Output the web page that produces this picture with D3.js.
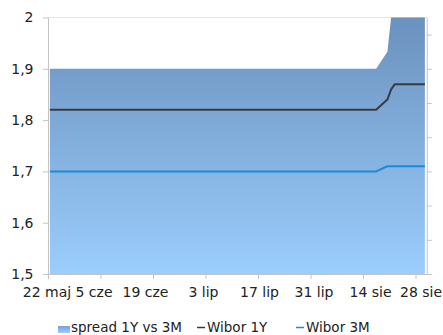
<!DOCTYPE html>
<html>
<head>
<meta charset="utf-8">
<script src="https://cdn.jsdelivr.net/npm/d3@7"></script>
<style>
  body { margin: 0; background: #fff; }
  svg { display: block; }
  text { font-family: "DejaVu Sans", Verdana, sans-serif; fill: #222; }
</style>
</head>
<body>
<svg id="chart" width="443" height="335"></svg>
<script>
// Observation dates (fixings) and rates, %
const dates   = ["2018-05-22", "2018-08-17", "2018-08-20", "2018-08-21", "2018-08-22", "2018-08-30"];
const wibor1Y = [1.82, 1.82, 1.84, 1.86, 1.87, 1.87];
const wibor3M = [1.70, 1.70, 1.71, 1.71, 1.71, 1.71];
const spread  = [0.12, 0.12, 0.13, 0.15, 0.16, 0.16];

// Axis ticks
const xTickDates  = ["2018-05-22", "2018-06-05", "2018-06-19", "2018-07-03", "2018-07-17", "2018-07-31", "2018-08-14", "2018-08-28"];
const xTickLabels = ["22 maj", "5 cze", "19 cze", "3 lip", "17 lip", "31 lip", "14 sie", "28 sie"];
const yTicks      = [1.5, 1.6, 1.7, 1.8, 1.9, 2];
const yTickLabels = ["1,5", "1,6", "1,7", "1,8", "1,9", "2"];
const y2Ticks     = [0, 0.02, 0.04, 0.06, 0.08, 0.10, 0.12, 0.14];

const seriesNames = ["spread 1Y vs 3M", "Wibor 1Y", "Wibor 3M"];

// Layout / styling
const colors = { line1Y: "#383b3f", line3M: "#1a8bd6", top: "#6b91bd", bottom: "#9bcdfd", axis: "#c4c4c4" };
const xLabelNudge = [-1.5, -7, -8, -2.5, 1, 3, 7, 5];   // spreads the date labels like the spreadsheet does
const plot = { left: 48, right: 426.75, top: 17.5, bottom: 274 };

const svg = d3.select("#chart");

const parse = s => d3.utcParse("%Y-%m-%d")(s);
const noon = s => d3.utcHour.offset(parse(s), 12);

const x = d3.scaleUtc()
  .domain([parse("2018-05-22"), parse("2018-08-31")])
  .range([plot.left, plot.right]);
const y = d3.scaleLinear().domain([1.5, 2]).range([plot.bottom, plot.top]);
const y2 = d3.scaleLinear().domain([0, 0.15]).range([plot.bottom, plot.top]);

const rows = dates.map((d, i) => ({ date: noon(d), r1: wibor1Y[i], r3: wibor3M[i], s: spread[i] }));

// gradient for the spread area
const defs = svg.append("defs");
const grad = defs.append("linearGradient")
  .attr("id", "spreadFill").attr("gradientUnits", "userSpaceOnUse")
  .attr("x1", 0).attr("x2", 0).attr("y1", plot.top).attr("y2", plot.bottom);
grad.append("stop").attr("offset", 0).attr("stop-color", colors.top);
grad.append("stop").attr("offset", 1).attr("stop-color", colors.bottom);

const legGrad = defs.append("linearGradient")
  .attr("id", "legendFill").attr("x1", 0).attr("x2", 0).attr("y1", 0).attr("y2", 1);
legGrad.append("stop").attr("offset", 0).attr("stop-color", "#76a2d2");
legGrad.append("stop").attr("offset", 1).attr("stop-color", "#9bcdfd");

defs.append("clipPath").attr("id", "plotClip")
  .append("rect")
  .attr("x", plot.left).attr("y", plot.top)
  .attr("width", plot.right - plot.left).attr("height", plot.bottom - plot.top);

// top border of the plot area
svg.append("line")
  .attr("x1", plot.left).attr("x2", plot.right)
  .attr("y1", plot.top).attr("y2", plot.top)
  .attr("stroke", "#e4e4e4").attr("stroke-width", 1);

const g = svg.append("g").attr("clip-path", "url(#plotClip)");

// spread on the secondary axis
g.append("path")
  .datum(rows)
  .attr("fill", "url(#spreadFill)")
  .attr("d", d3.area().x(d => x(d.date)).y0(y2(0)).y1(d => y2(d.s)));

g.append("path")
  .datum(rows)
  .attr("fill", "none").attr("stroke", colors.line1Y).attr("stroke-width", 2)
  .attr("stroke-linejoin", "round")
  .attr("d", d3.line().x(d => x(d.date)).y(d => y(d.r1)));

g.append("path")
  .datum(rows)
  .attr("fill", "none").attr("stroke", colors.line3M).attr("stroke-width", 2)
  .attr("stroke-linejoin", "round")
  .attr("d", d3.line().x(d => x(d.date)).y(d => y(d.r3)));

function styleAxis(sel) {
  sel.selectAll(".domain").attr("stroke", colors.axis);
  sel.selectAll(".tick line").attr("stroke", colors.axis);
  sel.selectAll("text").attr("fill", "#222").style("font-size", "14px")
    .style("font-family", '"DejaVu Sans", Verdana, sans-serif');
}

// left axis
svg.append("g")
  .attr("transform", `translate(${plot.left},0)`)
  .call(d3.axisLeft(y).tickValues(yTicks).tickSize(5).tickSizeOuter(0).tickPadding(9.5)
    .tickFormat((d, i) => yTickLabels[i]))
  .call(styleAxis);

// secondary axis for the spread (its labels fall outside the canvas)
svg.append("g")
  .attr("transform", `translate(${plot.right},0)`)
  .call(d3.axisRight(y2).tickValues(y2Ticks).tickSize(5).tickSizeOuter(0).tickFormat(""))
  .call(styleAxis);

// date axis
const xAxis = svg.append("g")
  .attr("transform", `translate(0,${plot.bottom})`)
  .call(d3.axisBottom(x).tickValues(xTickDates.map(parse)).tickSize(5).tickSizeOuter(0).tickPadding(8.5)
    .tickFormat((d, i) => xTickLabels[i]))
  .call(styleAxis);
xAxis.selectAll(".tick text").attr("x", (d, i) => xLabelNudge[i]);

// legend
const leg = svg.append("g").style("font-size", "13.5px");
leg.append("rect").attr("x", 58).attr("y", 326).attr("width", 12).attr("height", 7)
  .attr("fill", "url(#legendFill)");
leg.append("text").attr("x", 71).attr("y", 332).text(seriesNames[0]);
leg.append("line").attr("x1", 197).attr("x2", 205).attr("y1", 327.5).attr("y2", 327.5)
  .attr("stroke", colors.line1Y).attr("stroke-width", 1.5);
leg.append("text").attr("x", 207).attr("y", 332).text(seriesNames[1]);
leg.append("line").attr("x1", 296).attr("x2", 304).attr("y1", 327.5).attr("y2", 327.5)
  .attr("stroke", colors.line3M).attr("stroke-width", 1.5);
leg.append("text").attr("x", 306).attr("y", 332).text(seriesNames[2]);
</script>
</body>
</html>
